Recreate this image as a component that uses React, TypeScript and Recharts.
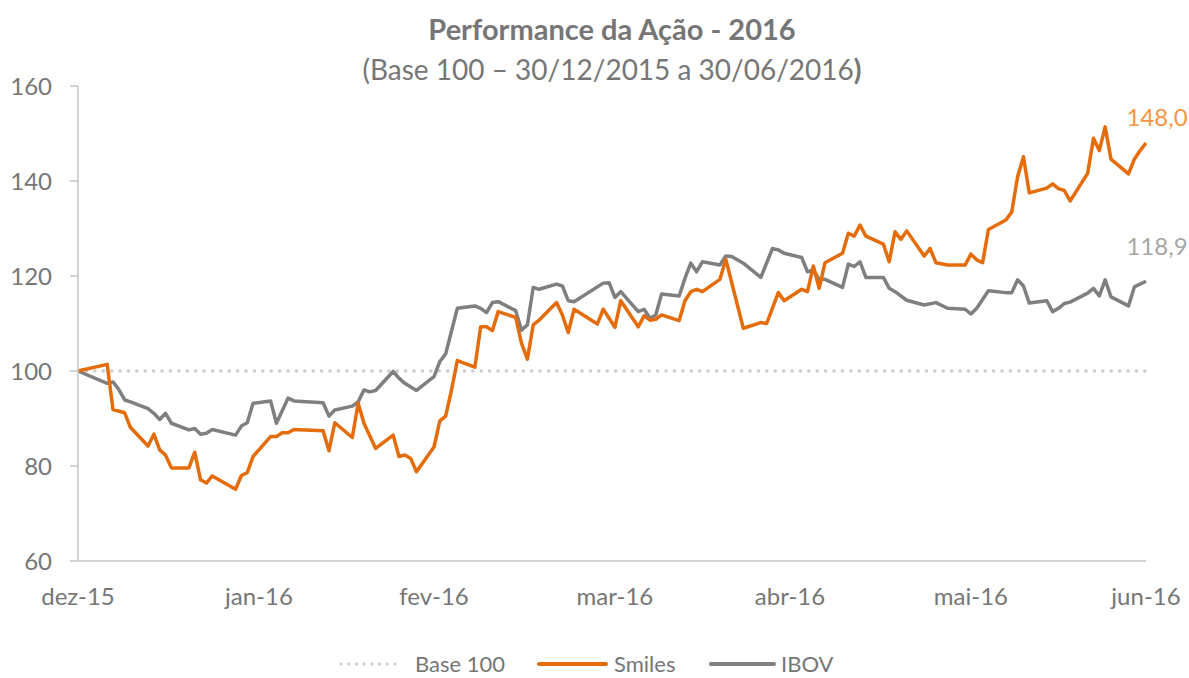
import { LineChart, Line, XAxis, YAxis } from "recharts";

// x = days since 30/12/2015 (date axis, so weekends/holidays leave gaps)
const monthTicks = [0, 31, 61, 92, 122, 153, 183];
const monthLabels = ["dez-15", "jan-16", "fev-16", "mar-16", "abr-16", "mai-16", "jun-16"];
const yTicks = [60, 80, 100, 120, 140, 160];

const baseDays = [0, 183];
const baseValues = [100, 100];

const smilesDays = [
  0, 5, 6, 8, 9, 12, 13, 14, 15, 16, 19, 20, 21, 22, 23, 27, 28, 29, 30, 33,
  34, 35, 36, 37, 42, 43, 44, 47, 48, 49, 51, 54, 55, 56, 57, 58, 61, 62, 63, 64,
  65, 68, 69, 70, 71, 72, 75, 76, 77, 78, 79, 82, 83, 84, 85, 89, 90, 92, 93, 96,
  97, 98, 99, 100, 103, 104, 105, 106, 107, 110, 111, 114, 117, 118, 120, 121, 124, 125, 126, 127,
  128, 131, 132, 133, 134, 135, 138, 139, 140, 141, 142, 145, 146, 147, 149, 152, 153, 154, 155, 156,
  159, 160, 161, 162, 163, 166, 167, 168, 169, 170, 173, 174, 175, 176, 177, 180, 181, 182, 183,
];
const smilesValues = [
  100, 101.4, 91.9, 91.2, 88.1, 84.2, 86.7, 83.4, 82.3, 79.6, 79.6, 82.9, 77.1, 76.4, 77.9, 75.1, 78.0, 78.6, 82.0, 86.2,
  86.2, 87.0, 87.0, 87.7, 87.4, 83.2, 89.1, 86.0, 93.2, 89.0, 83.7, 86.5, 82.0, 82.3, 81.6, 78.8, 84.0, 89.5, 90.5, 96.0,
  102.2, 100.8, 109.3, 109.3, 108.5, 112.5, 111.3, 105.8, 102.5, 109.7, 110.7, 114.4, 111.8, 108.1, 113.0, 109.9, 113.0, 109.2, 114.8, 109.3,
  111.6, 110.7, 110.9, 111.8, 110.6, 114.8, 116.7, 117.2, 116.7, 119.3, 123.5, 109.0, 110.2, 110.0, 116.5, 114.8, 117.2, 116.7, 122.1, 117.4,
  122.8, 124.8, 129.0, 128.4, 130.7, 128.4, 126.7, 123.0, 129.3, 127.7, 129.5, 124.2, 125.8, 122.8, 122.3, 122.3, 124.6, 123.4, 122.8, 129.8,
  131.8, 133.5, 140.9, 145.1, 137.5, 138.5, 139.4, 138.4, 138.0, 135.8, 141.6, 149.0, 146.4, 151.4, 144.6, 141.5, 144.6, 146.4, 148.0,
];

const ibovDays = [
  0, 5, 6, 7, 8, 9, 12, 13, 14, 15, 16, 19, 20, 21, 22, 23, 27, 28, 29, 30,
  33, 34, 36, 37, 42, 43, 44, 47, 48, 49, 50, 51, 54, 55, 56, 58, 61, 62, 63, 65,
  68, 69, 70, 71, 72, 75, 76, 77, 78, 79, 82, 83, 84, 85, 90, 91, 92, 93, 96, 97,
  98, 99, 100, 103, 104, 105, 106, 107, 110, 111, 112, 114, 117, 119, 120, 121, 124, 125, 126, 127,
  128, 131, 132, 133, 134, 135, 138, 139, 140, 142, 145, 147, 149, 152, 153, 154, 156, 159, 160, 161,
  162, 163, 166, 167, 168, 169, 170, 173, 174, 175, 176, 177, 180, 181, 183,
];
const ibovValues = [
  100, 97.4, 97.7, 96.1, 93.9, 93.5, 92.1, 91.1, 89.8, 91.1, 89.0, 87.6, 87.9, 86.7, 86.9, 87.7, 86.5, 88.4, 89.1, 93.2,
  93.7, 89.0, 94.3, 93.7, 93.3, 90.5, 91.8, 92.6, 93.5, 96.0, 95.6, 95.9, 99.9, 98.5, 97.4, 95.9, 98.8, 102.0, 103.6, 113.2,
  113.7, 113.2, 112.3, 114.4, 114.6, 112.7, 108.6, 109.7, 117.6, 117.2, 118.3, 117.9, 114.8, 114.6, 118.5, 118.6, 115.5, 116.7, 112.5, 113.0,
  111.1, 111.8, 116.2, 115.8, 119.5, 122.7, 120.9, 123.0, 122.3, 124.2, 124.1, 122.7, 119.7, 125.8, 125.5, 124.8, 123.9, 120.9, 121.3, 119.3,
  119.3, 117.6, 122.5, 122.0, 123.0, 119.7, 119.7, 117.4, 116.7, 114.9, 113.9, 114.4, 113.2, 113.0, 112.0, 113.2, 116.9, 116.5, 116.5, 119.2,
  117.9, 114.3, 114.8, 112.5, 113.2, 114.2, 114.5, 116.4, 117.4, 115.8, 119.2, 115.6, 113.7, 117.7, 118.9,
];

const ORANGE = "#E46C0A";
const GRAY = "#7F7F7F";
const DOTS = "#CCCCCC";
const TEXT = "#767676";
const AXIS = "#C6C6C6";
const FONT = "Lato, sans-serif";

const toRows = (days: number[], values: number[]) =>
  days.map((day, i) => ({ day, value: values[i] }));

const baseData = toRows(baseDays, baseValues);
const smilesData = toRows(smilesDays, smilesValues);
const ibovData = toRows(ibovDays, ibovValues);

const fmt = (v: number) => v.toFixed(1).replace(".", ",");

// only the last point gets a value label
function endLabel(lastIndex: number, color: string, dy: number) {
  return (props: any) => {
    if (props.index !== lastIndex) return null;
    return (
      <text x={props.x + 11} y={props.y + dy} textAnchor="middle" fill={color} fontSize={24} fontFamily={FONT}>
        {fmt(props.value)}
      </text>
    );
  };
}

function LegendItem(props: { color: string; dashed?: boolean; label: string; sample: number; gap: number; left: number }) {
  const { color, dashed, label, sample, gap, left } = props;
  return (
    <div style={{ position: "absolute", left, top: 0, height: 26, display: "flex", alignItems: "center", gap, whiteSpace: "nowrap" }}>
      <svg width={sample} height={10}>
        <line
          x1={2}
          y1={5}
          x2={sample - 2}
          y2={5}
          stroke={color}
          strokeWidth={dashed ? 3 : 4}
          strokeDasharray={dashed ? "0.1 7.6" : undefined}
          strokeLinecap="round"
        />
      </svg>
      <span>{label}</span>
    </div>
  );
}

export default function App() {
  return (
    <div style={{ position: "relative", width: 1189, height: 678, background: "#fff", fontFamily: FONT, overflow: "hidden" }}>
      <style>{"body{margin:0}"}</style>
      <div
        style={{
          position: "absolute",
          left: 612,
          top: 11,
          transform: "translateX(-50%)",
          textAlign: "center",
          color: TEXT,
          whiteSpace: "nowrap",
        }}
      >
        <div style={{ fontSize: 29, fontWeight: 700, lineHeight: "36px" }}>Performance da Ação - 2016</div>
        <div style={{ fontSize: 28, lineHeight: "44px" }}>
          (Base 100 – 30/12/2015 a 30/06/2016<b>)</b>
        </div>
      </div>

      <LineChart width={1189} height={678} margin={{ top: 86, right: 43, bottom: 0, left: 0 }}>
        <XAxis
          type="number"
          dataKey="day"
          domain={[0, 183]}
          ticks={monthTicks}
          interval={0}
          tickFormatter={(d: number) => monthLabels[monthTicks.indexOf(d)]}
          tickLine={false}
          tickSize={6}
          tickMargin={21}
          height={117}
          axisLine={{ stroke: AXIS, strokeWidth: 1.5 }}
          tick={{ fill: TEXT, fontSize: 24, fontFamily: FONT }}
        />
        <YAxis
          type="number"
          domain={[60, 160]}
          ticks={yTicks}
          interval={0}
          width={78}
          tickSize={8}
          tickMargin={18}
          axisLine={{ stroke: AXIS, strokeWidth: 1.5 }}
          tickLine={{ stroke: AXIS, strokeWidth: 1.5 }}
          tick={{ fill: TEXT, fontSize: 24, fontFamily: FONT }}
        />
        <Line
          data={baseData}
          dataKey="value"
          name="Base 100"
          stroke={DOTS}
          strokeWidth={3.5}
          strokeDasharray="0.1 8.3"
          strokeLinecap="round"
          dot={false}
          isAnimationActive={false}
        />
        <Line
          data={ibovData}
          dataKey="value"
          name="IBOV"
          type="linear"
          stroke={GRAY}
          strokeWidth={3.5}
          strokeLinejoin="round"
          dot={false}
          label={endLabel(ibovData.length - 1, "#A6A6A6", -26)}
          isAnimationActive={false}
        />
        <Line
          data={smilesData}
          dataKey="value"
          name="Smiles"
          type="linear"
          stroke={ORANGE}
          strokeWidth={3.5}
          strokeLinejoin="round"
          dot={false}
          label={endLabel(smilesData.length - 1, "#F79646", -17)}
          isAnimationActive={false}
        />
      </LineChart>

      <div
        style={{
          position: "absolute",
          left: 0,
          top: 651,
          width: 1189,
          height: 26,
          fontSize: 22,
          color: TEXT,
          lineHeight: "26px",
        }}
      >
        <LegendItem color={DOTS} dashed label="Base 100" sample={64} gap={12} left={339} />
        <LegendItem color={ORANGE} label="Smiles" sample={71} gap={6} left={537} />
        <LegendItem color={GRAY} label="IBOV" sample={67} gap={5} left={709} />
      </div>
    </div>
  );
}
